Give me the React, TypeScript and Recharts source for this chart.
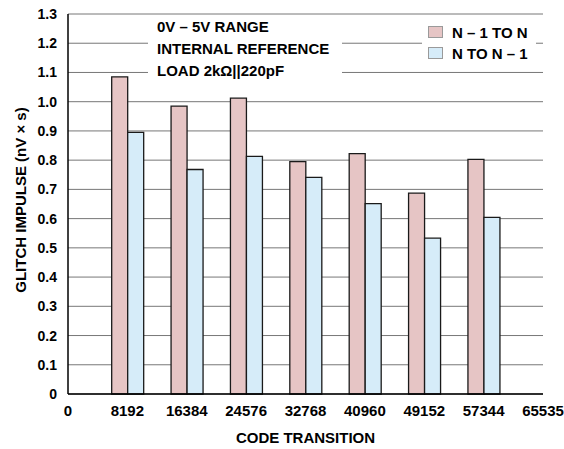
import React from "react";
import {
  BarChart,
  Bar,
  XAxis,
  YAxis,
  CartesianGrid,
  Legend,
  Label,
} from "recharts";

// code transitions that were measured
const codes = [8192, 16384, 24576, 32768, 40960, 49152, 57344];
// glitch impulse, nV x s
const riseImpulse = [1.085, 0.985, 1.012, 0.795, 0.822, 0.687, 0.803];
const fallImpulse = [0.895, 0.768, 0.813, 0.741, 0.651, 0.533, 0.604];

const xTicks = [0, 8192, 16384, 24576, 32768, 40960, 49152, 57344, 65535];
const yTicks = [0, 0.1, 0.2, 0.3, 0.4, 0.5, 0.6, 0.7, 0.8, 0.9, 1.0, 1.1, 1.2, 1.3];

const seriesKeys = ["rise", "fall"];
const seriesNames = ["N \u2013 1 TO N", "N TO N \u2013 1"];

const conditions = ["0V \u2013 5V RANGE", "INTERNAL REFERENCE", "LOAD 2k\u03a9||220pF"];

const data = codes.map((code, i) => ({
  code,
  rise: riseImpulse[i],
  fall: fallImpulse[i],
}));

const FONT = '"Liberation Sans", Arial, Helvetica, sans-serif';
const PINK = "#e6c5c5";
const BLUE = "#d6ecf9";

const tickStyle = { fill: "#000", fontSize: 14, fontWeight: 700, fontFamily: FONT };

function LegendBox({ payload }: any) {
  // keep the legend in series order, not sorted by name
  const items = seriesKeys
    .map((key) => (payload || []).find((p: any) => p.dataKey === key))
    .filter(Boolean);
  return (
    <div style={{ position: "relative", width: "100%", height: "100%" }}>
      {items.map((entry: any, i: number) => (
        <React.Fragment key={entry.value}>
          <div
            style={{
              position: "absolute",
              left: 6,
              top: 10 + i * 21,
              width: 13,
              height: 10,
              background: entry.color,
              border: "1px solid #9a9a9a",
            }}
          />
          <div
            style={{
              position: "absolute",
              left: 30,
              top: 9 + i * 21,
              fontSize: 15,
              lineHeight: "15px",
              fontWeight: 700,
              fontFamily: FONT,
              whiteSpace: "nowrap",
              color: "#000",
            }}
          >
            {entry.value}
          </div>
        </React.Fragment>
      ))}
    </div>
  );
}

export default function App() {
  return (
    <div style={{ position: "absolute", left: 0, top: 0, width: 564, height: 449, background: "#fff" }}>
      <BarChart
        width={564}
        height={449}
        data={data}
        margin={{ top: 14, right: 21, bottom: 0, left: 0 }}
        barGap={0}
        barSize={16}
      >
        <CartesianGrid vertical={false} stroke="#777" strokeWidth={1} />
        <XAxis
          dataKey="code"
          type="number"
          domain={[0, 65535]}
          ticks={xTicks}
          interval={0}
          height={55}
          tickLine={false}
          tickSize={0}
          tickMargin={11}
          axisLine={{ stroke: "#000", strokeWidth: 1.5 }}
          tick={{ ...tickStyle, fontSize: 15 }}
        >
          <Label
            content={() => (
              <text
                x={305.5}
                y={443}
                textAnchor="middle"
                fontSize={15}
                fontWeight={700}
                fontFamily={FONT}
                fill="#000"
              >
                CODE TRANSITION
              </text>
            )}
          />
        </XAxis>
        <XAxis
          xAxisId="top"
          orientation="top"
          type="number"
          domain={[0, 65535]}
          height={0}
          tick={false}
          tickLine={false}
          axisLine={{ stroke: "#000", strokeWidth: 1.5 }}
        />
        <YAxis
          type="number"
          domain={[0, 1.3]}
          ticks={yTicks}
          interval={0}
          width={68}
          tickLine={false}
          tickSize={0}
          tickMargin={11}
          axisLine={{ stroke: "#000", strokeWidth: 1.5 }}
          tick={tickStyle}
          tickFormatter={(v: number) => (v === 0 ? "0" : v.toFixed(1))}
        >
          <Label
            content={() => (
              <text
                x={26}
                y={200}
                transform="rotate(-90 26 200)"
                textAnchor="middle"
                fontSize={15}
                fontWeight={700}
                fontFamily={FONT}
                fill="#000"
              >
                GLITCH IMPULSE (nV × s)
              </text>
            )}
          />
        </YAxis>
        <YAxis
          yAxisId="right"
          orientation="right"
          domain={[0, 1.3]}
          width={0}
          tick={false}
          tickLine={false}
          axisLine={{ stroke: "#000", strokeWidth: 1.5 }}
        />
        <Legend
          layout="vertical"
          align="center"
          verticalAlign="middle"
          content={<LegendBox />}
          wrapperStyle={{ left: 422, top: 16, width: 114, height: 50, background: "#fff" }}
        />
        <Bar
          dataKey={seriesKeys[0]}
          name={seriesNames[0]}
          fill={PINK}
          stroke="#1a1a1a"
          strokeWidth={1.3}
          isAnimationActive={false}
        />
        <Bar
          dataKey={seriesKeys[1]}
          name={seriesNames[1]}
          fill={BLUE}
          stroke="#1a1a1a"
          strokeWidth={1.3}
          isAnimationActive={false}
        />
      </BarChart>
      <div
        style={{
          position: "absolute",
          left: 148,
          top: 16,
          width: 194,
          height: 68,
          paddingLeft: 9,
          boxSizing: "border-box",
          background: "#fff",
          fontFamily: FONT,
          fontWeight: 700,
          fontSize: 15,
          lineHeight: "22px",
          color: "#000",
          whiteSpace: "nowrap",
        }}
      >
        {conditions.map((line) => (
          <div key={line}>{line}</div>
        ))}
      </div>
    </div>
  );
}
